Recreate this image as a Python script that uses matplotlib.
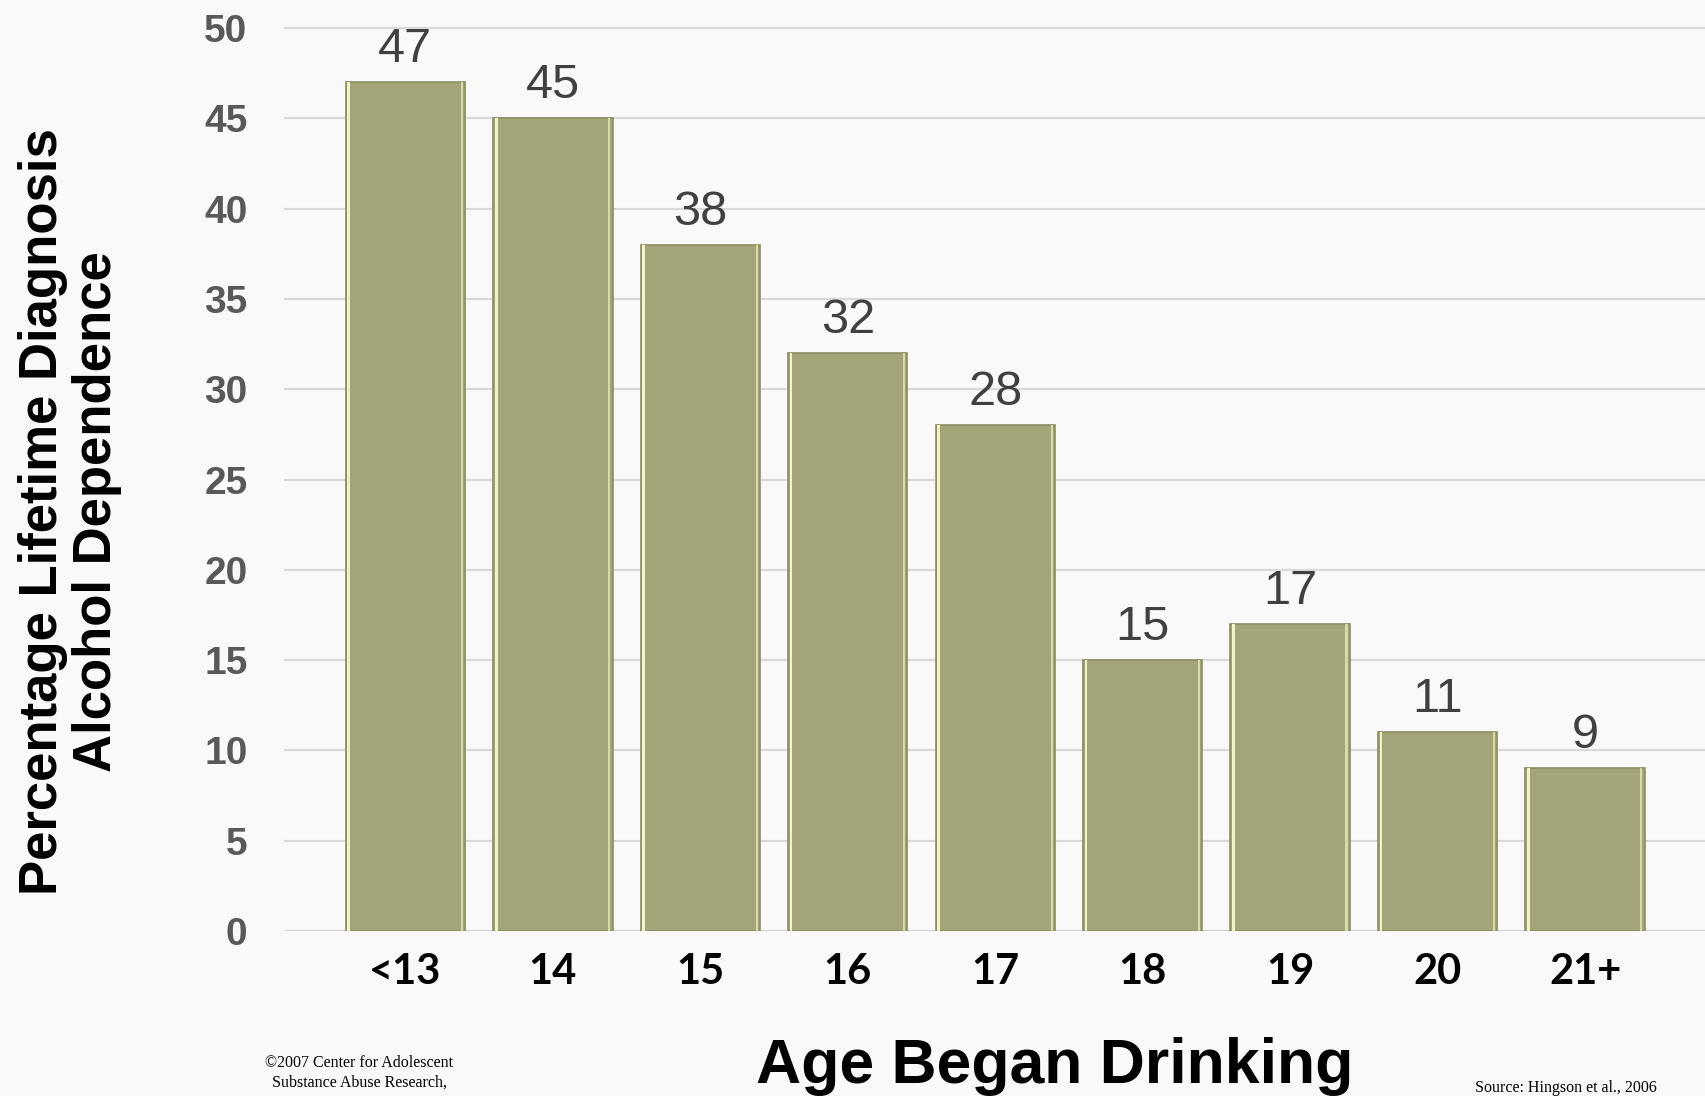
import matplotlib
matplotlib.use("Agg")
import matplotlib.pyplot as plt
import numpy as np

# Data
AGES = ["<13", "14", "15", "16", "17", "18", "19", "20", "21+"]
PCT_DEPENDENCE = [47, 45, 38, 32, 28, 15, 17, 11, 9]
Y_TICKS = [0, 5, 10, 15, 20, 25, 30, 35, 40, 45, 50]

BG = "#faf9fa"
BAR_FACE = "#a3a477"
BAR_EDGE = "#8b8d60"
HILITE = "#f1f3c6"
GRID = "#d9d9d9"

fig = plt.figure(figsize=(17.06, 10.96), dpi=100, facecolor=BG)
ax = fig.add_axes([0.167, 0.1505, 0.833, 0.824])
ax.set_facecolor(BG)

x = np.arange(len(AGES))
w = 0.81

# main bars
ax.bar(x, PCT_DEPENDENCE, w, color=BAR_FACE, edgecolor=BAR_EDGE, linewidth=1.2, zorder=3)
# bevel highlights (left and right inner edges)
ax.bar(x - w / 2 + 0.012, PCT_DEPENDENCE, 0.018, align="edge", color=HILITE, linewidth=0, zorder=4)
ax.bar(x + w / 2 - 0.03, PCT_DEPENDENCE, 0.014, align="edge", color="#d6d9a8", linewidth=0, zorder=4)

for xi, v in zip(x, PCT_DEPENDENCE):
    ax.annotate(f"{v}", (xi, v), xytext=(0, 14.5), textcoords="offset points",
                ha="center", va="baseline", fontsize=35, color="#404040",
                family="Liberation Sans")

ax.set_xlim(-0.817, 8.82)
ax.set_ylim(0, 50)
ax.set_yticks(Y_TICKS)
ax.set_yticklabels([str(t) for t in Y_TICKS], fontsize=28, fontweight="bold",
                   color="#595959", family="Liberation Sans")
ax.set_xticks(x)
ax.set_xticklabels(AGES, fontsize=30, fontweight="bold", color="black", family="Lato")
ax.tick_params(axis="y", length=0, pad=27)
ax.tick_params(axis="x", length=0, pad=16)

for t in Y_TICKS[1:]:
    ax.axhline(t, color=GRID, lw=1.6, zorder=1, clip_on=False)
ax.axhline(0, color="#c4c4c4", lw=1.8, zorder=2)
for s in ax.spines.values():
    s.set_visible(False)

fig.text(0.041, 0.533, "Percentage Lifetime Diagnosis\nAlcohol Dependence",
         rotation=90, ha="center", va="center", fontsize=38, fontweight="bold",
         family="Liberation Sans", linespacing=1.1, multialignment="center")
fig.text(0.618, 0.012, "Age Began Drinking", ha="center", va="baseline",
         fontsize=45, fontweight="bold", family="Liberation Sans")

fig.text(0.2105, 0.021, "\u00a92007 Center for Adolescent\nSubstance Abuse Research,",
         ha="center", va="center", fontsize=11.5, family="Liberation Serif",
         linespacing=1.25)
fig.text(0.8645, 0.004, "Source: Hingson et al., 2006", ha="left", va="baseline",
         fontsize=11.5, family="Liberation Serif")

fig.savefig("out.png", dpi=100, facecolor=BG)
